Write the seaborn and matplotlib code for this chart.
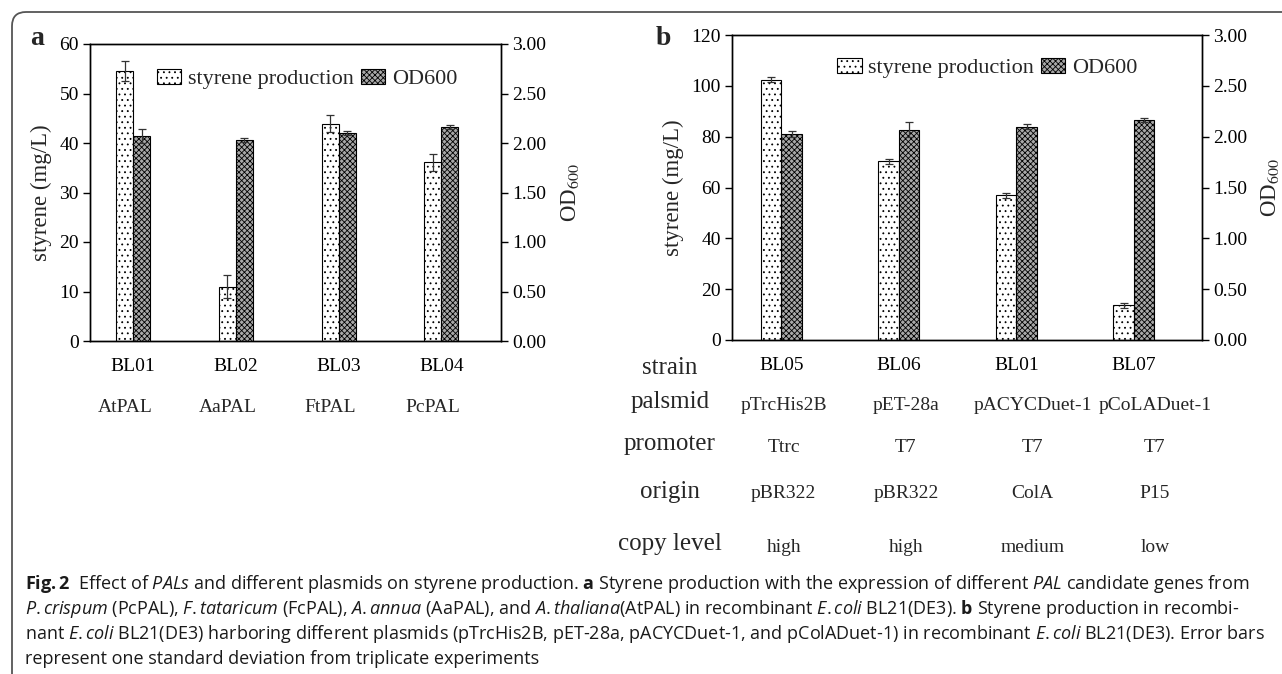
import numpy as np
import pandas as pd
import matplotlib
matplotlib.use("Agg")
import matplotlib.pyplot as plt
import seaborn as sns
from matplotlib import transforms
from matplotlib import font_manager as fm
from matplotlib.patches import FancyBboxPatch
from matplotlib.ticker import FormatStrFormatter

# ---------------- data ----------------
series = ["styrene production", "OD600"]

strains_a = ["BL01", "BL02", "BL03", "BL04"]
genes_a = ["AtPAL", "AaPAL", "FtPAL", "PcPAL"]
styrene_a = [54.6, 11.0, 43.9, 36.1]
styrene_err_a = [2.0, 2.3, 1.7, 1.7]
od_a = [2.07, 2.03, 2.10, 2.16]
od_err_a = [0.07, 0.02, 0.02, 0.02]

strains_b = ["BL05", "BL06", "BL01", "BL07"]
plasmids_b = ["pTrcHis2B", "pET-28a", "pACYCDuet-1", "pCoLADuet-1"]
promoters_b = ["Ttrc", "T7", "T7", "T7"]
origins_b = ["pBR322", "pBR322", "ColA", "P15"]
copy_b = ["high", "high", "medium", "low"]
styrene_b = [102.4, 70.4, 57.0, 13.7]
styrene_err_b = [1.0, 1.0, 1.0, 1.0]
od_b = [2.03, 2.07, 2.10, 2.16]
od_err_b = [0.03, 0.07, 0.02, 0.02]
row_labels_b = ["strain", "palsmid", "promoter", "origin", "copy level"]

yticks_a = [0, 10, 20, 30, 40, 50, 60]
yticks_b = [0, 20, 40, 60, 80, 100, 120]
od_ticks = [0.0, 0.5, 1.0, 1.5, 2.0, 2.5, 3.0]

# ---------------- style ----------------
sns.set_theme(style="ticks")
plt.rcParams["font.family"] = ["Liberation Serif", "DejaVu Serif"]
plt.rcParams["hatch.linewidth"] = 0.6
plt.rcParams["axes.edgecolor"] = "black"
plt.rcParams["axes.linewidth"] = 1.0


def has_font(name):
    try:
        fm.findfont(fm.FontProperties(family=name), fallback_to_default=False)
        return True
    except Exception:
        return False


capfont = "Liberation Sans Narrow" if has_font("Liberation Sans Narrow") else "Open Sans"
plt.rcParams["mathtext.fontset"] = "custom"
plt.rcParams["mathtext.rm"] = capfont
plt.rcParams["mathtext.it"] = capfont + ":italic"
plt.rcParams["mathtext.bf"] = capfont + ":bold"

W, H = 1282, 674
fig = plt.figure(figsize=(W / 100, H / 100), dpi=100)


def fx(x):
    return x / W


def fy(y):
    return 1 - y / H


def panel(rect, strains, sty, sty_err, od, od_err, yticks, width, legend_xy, lab_left, lab_right):
    ax = fig.add_axes(rect)
    ax2 = ax.twinx()
    df1 = pd.DataFrame({"strain": strains, "value": sty, "series": series[0]})
    df2 = pd.DataFrame({"strain": strains, "value": od, "series": series[1]})
    sns.barplot(data=df1, x="strain", y="value", hue="series", hue_order=series,
                order=strains, ax=ax, width=width, dodge=True, legend=False,
                errorbar=None, palette=["white", "#9a9a9a"])
    sns.barplot(data=df2, x="strain", y="value", hue="series", hue_order=series,
                order=strains, ax=ax2, width=width, dodge=True, legend=False,
                errorbar=None, palette=["white", "#9a9a9a"])
    for p in ax.patches:
        p.set_facecolor("white")
        p.set_edgecolor("black")
        p.set_linewidth(0.8)
        p.set_hatch("...")
    for p in ax2.patches:
        p.set_facecolor("#a8a8a8")
        p.set_edgecolor("black")
        p.set_linewidth(0.8)
        p.set_hatch("xxxxxx")
    p1 = sorted([p for p in ax.patches if p.get_height() > 0], key=lambda p: p.get_x())
    p2 = sorted([p for p in ax2.patches if p.get_height() > 0], key=lambda p: p.get_x())
    ax.errorbar([p.get_x() + p.get_width() / 2 for p in p1], sty, yerr=sty_err,
                fmt="none", ecolor="#333333", elinewidth=0.9, capsize=3, capthick=0.9)
    ax2.errorbar([p.get_x() + p.get_width() / 2 for p in p2], od, yerr=od_err,
                 fmt="none", ecolor="#333333", elinewidth=0.9, capsize=3, capthick=0.9)
    ax.set_xlim(-0.42, len(strains) - 0.42)
    ax.set_ylim(yticks[0], yticks[-1])
    ax.set_yticks(yticks)
    ax2.set_ylim(od_ticks[0], od_ticks[-1])
    ax2.set_yticks(od_ticks)
    ax2.yaxis.set_major_formatter(FormatStrFormatter("%.2f"))
    ax.set_xlabel("")
    ax2.set_xlabel("")
    ax.set_ylabel("styrene (mg/L)", fontsize=16.5, va="center")
    ax.yaxis.set_label_coords(lab_left, 0.5)
    ax2.set_ylabel(r"OD$_{600}$", fontsize=16.5, va="center", rotation=90,
                   math_fontfamily="stix")
    ax2.yaxis.set_label_coords(lab_right, 0.5)
    for a in (ax, ax2):
        a.tick_params(axis="y", labelsize=14, length=5, width=1, direction="out",
                      colors="black", pad=3)
        a.tick_params(axis="x", length=0, labelsize=14, pad=12, colors="black")
        a.grid(False)
        for s in a.spines.values():
            s.set_visible(True)
            s.set_color("black")
            s.set_linewidth(1.0)
    ax2.legend([p1[0], p2[0]], series, loc="center", bbox_to_anchor=legend_xy,
               ncol=2, frameon=False, fontsize=16, handlelength=1.1, handleheight=0.7,
               handletextpad=0.3, columnspacing=0.3, borderpad=0)
    return ax, ax2


axa, axa2 = panel([fx(90), fy(341), fx(411), 297 / H], strains_a, styrene_a, styrene_err_a,
                  od_a, od_err_a, yticks_a, 0.33, (0.528, 0.882), -0.119, 1.168)
axb, axb2 = panel([fx(732), fy(340), fx(470), 305 / H], strains_b, styrene_b, styrene_err_b,
                  od_b, od_err_b, yticks_b, 0.35, (0.543, 0.892), -0.1255, 1.1447)

# panel letters
fig.text(fx(37), fy(45), "a", fontsize=20, fontweight="bold", ha="center", va="baseline")
fig.text(fx(663), fy(45), "b", fontsize=20, fontweight="bold", ha="center", va="baseline")

# panel a gene row
ta = transforms.blended_transform_factory(axa.transData, fig.transFigure)
for i, g in enumerate(genes_a):
    axa.text(i - 0.08, fy(407), g, transform=ta, ha="center", va="center", fontsize=14)

# panel b table
tb = transforms.blended_transform_factory(axb.transData, fig.transFigure)
col_shift = np.array([0.02, 0.06, 0.14, 0.18])
row_label_y = [368, 402, 444, 492, 544]
row_val_y = [405, 447, 494, 547]
for lab, yy in zip(row_labels_b, row_label_y):
    fig.text(fx(670), fy(yy), lab, ha="center", va="center", fontsize=18)
for vals, yy in zip([plasmids_b, promoters_b, origins_b, copy_b], row_val_y):
    for i, v in enumerate(vals):
        axb.text(i + col_shift[i], fy(yy), v, transform=tb, ha="center", va="center",
                 fontsize=14)

# caption


def it(s):
    return r"$\mathit{" + s.replace(" ", r"\ ") + "}$"


def bf(s):
    return r"$\mathbf{" + s.replace(" ", r"\ ") + "}$"


caption_lines = [
    bf("Fig.2") + "  Effect of " + it("PALs") + " and different plasmids on styrene production. "
    + bf("a") + " Styrene production with the expression of different " + it("PAL")
    + " candidate genes from",
    it("P.crispum") + " (PcPAL), " + it("F.tataricum") + " (FcPAL), " + it("A.annua")
    + " (AaPAL), and " + it("A.thaliana") + "(AtPAL) in recombinant " + it("E.coli")
    + " BL21(DE3). " + bf("b") + " Styrene production in recombi-",
    "nant " + it("E.coli") + " BL21(DE3) harboring different plasmids (pTrcHis2B, pET-28a, "
    "pACYCDuet-1, and pColADuet-1) in recombinant " + it("E.coli") + " BL21(DE3). Error bars",
    "represent one standard deviation from triplicate experiments",
]
baselines = [589, 614, 639, 664]
caps = []
for line, yb in zip(caption_lines, baselines):
    caps.append(fig.text(fx(25), fy(yb), line, ha="left", va="baseline", fontsize=12,
                         family=capfont, math_fontfamily="custom", color="#1a1a1a"))
renderer = fig.canvas.get_renderer()
wmax = max(c.get_window_extent(renderer).width for c in caps[:3])
size = min(13.0, 12.0 * 1250.0 / wmax)
for c in caps:
    c.set_fontsize(size)

# rounded frame
frame = FancyBboxPatch((12, -40), 1330, H - 12 + 40,
                       boxstyle="round,pad=0,rounding_size=14",
                       transform=transforms.IdentityTransform(), fill=False,
                       ec="#555555", lw=1.3)
fig.add_artist(frame)

fig.savefig("out.png", dpi=100)
